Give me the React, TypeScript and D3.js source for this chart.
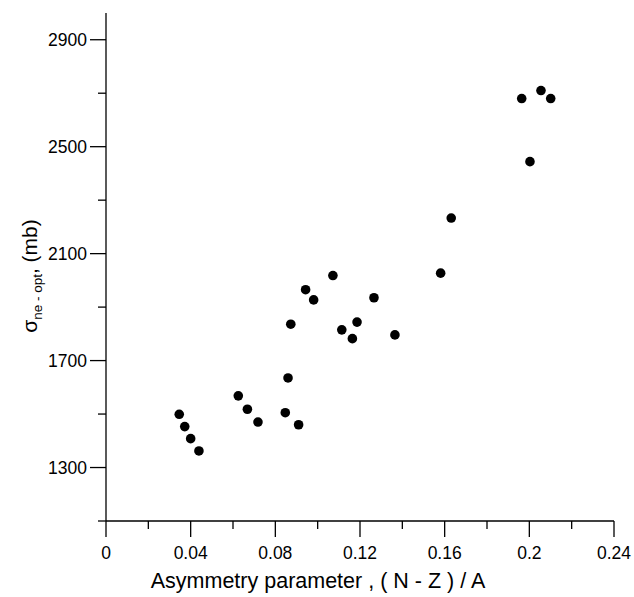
import React from "react";
import * as d3 from "d3";

const asymmetry = [
  0.0346, 0.0372, 0.04, 0.0439, 0.0625, 0.0668, 0.0718, 0.0847, 0.091, 0.086,
  0.0873, 0.0943, 0.0981, 0.1072, 0.1114, 0.1164, 0.1186, 0.1266, 0.1365,
  0.1581, 0.1631, 0.2003, 0.1964, 0.2055, 0.2101,
];
const crossSection = [
  1499, 1453, 1408, 1362, 1568, 1518, 1470, 1505, 1460, 1635, 1836, 1965, 1927,
  2018, 1815, 1782, 1844, 1935, 1796, 2027, 2233, 2444, 2680, 2710, 2680,
];
const xMajorTicks = [0, 0.04, 0.08, 0.12, 0.16, 0.2, 0.24];
const xMinorTicks = [0.02, 0.06, 0.1, 0.14, 0.18, 0.22];
const yMajorTicks = [1300, 1700, 2100, 2500, 2900];
const yMinorTicks = [1100, 1500, 1900, 2300, 2700];

const W = 634;
const H = 597;
const FONT = "'Liberation Sans', Arial, sans-serif";

export default function App() {
  const x = d3.scaleLinear().domain([0, 0.24]).range([106, 614]);
  const y = d3.scaleLinear().domain([1100, 3000]).range([521, 13]);
  const fmt = (v: number) => String(+v.toFixed(2));
  const major = 16;
  const minor = 8;
  return (
    <svg
      width={W}
      height={H}
      style={{ position: "absolute", left: 0, top: 0, background: "#fff" }}
      fontFamily={FONT}
    >
      {/* axes */}
      <line x1={x(0)} x2={x(0.24)} y1={y(1100)} y2={y(1100)} stroke="#000" strokeWidth={1.3} />
      <line x1={x(0)} x2={x(0)} y1={y(1100)} y2={y(3000)} stroke="#000" strokeWidth={1.3} />
      {xMajorTicks.map((t) => (
        <g key={"xM" + t}>
          <line x1={x(t)} x2={x(t)} y1={y(1100)} y2={y(1100) + major} stroke="#000" strokeWidth={1.3} />
          <text x={x(t)} y={559} textAnchor="middle" fontSize={17.5}>
            {fmt(t)}
          </text>
        </g>
      ))}
      {xMinorTicks.map((t) => (
        <line key={"xm" + t} x1={x(t)} x2={x(t)} y1={y(1100)} y2={y(1100) + minor} stroke="#000" strokeWidth={1.3} />
      ))}
      {yMajorTicks.map((t) => (
        <g key={"yM" + t}>
          <line x1={x(0)} x2={x(0) - major} y1={y(t)} y2={y(t)} stroke="#000" strokeWidth={1.3} />
          <text x={87} y={y(t)} dy="0.36em" textAnchor="end" fontSize={17.5}>
            {t}
          </text>
        </g>
      ))}
      {yMinorTicks.map((t) => (
        <line key={"ym" + t} x1={x(0)} x2={x(0) - minor} y1={y(t)} y2={y(t)} stroke="#000" strokeWidth={1.3} />
      ))}
      {/* points */}
      {asymmetry.map((a, i) => (
        <circle key={i} cx={x(a)} cy={y(crossSection[i])} r={4.8} fill="#000" />
      ))}
      {/* axis titles */}
      <text x={318} y={588} textAnchor="middle" fontSize={21.5}>
        Asymmetry parameter , ( N - Z ) / A
      </text>
      <text transform="translate(37,276) rotate(-90)" textAnchor="middle" fontSize={21}>
        σ
        <tspan fontSize={13.5} dy={5}>ne - opt</tspan>
        <tspan dy={-5}>, (mb)</tspan>
      </text>
    </svg>
  );
}
